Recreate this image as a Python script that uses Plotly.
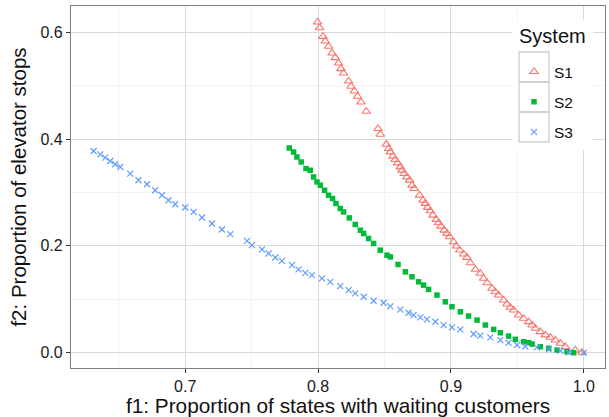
import plotly.graph_objects as go

# ---- data ----
s1_f1 = [0.7996, 0.8011, 0.8037, 0.8054, 0.8079, 0.8105, 0.8130, 0.8154, 0.8172, 0.8192,
         0.8230, 0.8248, 0.8273, 0.8297, 0.8323, 0.8363, 0.8451, 0.8468, 0.8514, 0.8531,
         0.8544, 0.8564, 0.8581, 0.8599, 0.8619, 0.8632, 0.8649, 0.8669, 0.8689, 0.8707,
         0.8724, 0.8764, 0.8790, 0.8807, 0.8825, 0.8845, 0.8865, 0.8890, 0.8907, 0.8925,
         0.8950, 0.8971, 0.8990, 0.9020, 0.9041, 0.9066, 0.9096, 0.9121, 0.9146, 0.9184,
         0.9221, 0.9246, 0.9272, 0.9309, 0.9334, 0.9359, 0.9397, 0.9422, 0.9447, 0.9472,
         0.9510, 0.9547, 0.9585, 0.9611, 0.9636, 0.9673, 0.9711, 0.9748, 0.9786, 0.9824,
         0.9861, 0.9937, 0.9987]
s1_f2 = [0.6187, 0.6082, 0.5920, 0.5832, 0.5733, 0.5607, 0.5521, 0.5420, 0.5316, 0.5234,
         0.5084, 0.4985, 0.4897, 0.4798, 0.4692, 0.4518, 0.4194, 0.4088, 0.3901, 0.3821,
         0.3757, 0.3677, 0.3615, 0.3551, 0.3477, 0.3415, 0.3353, 0.3290, 0.3228, 0.3135,
         0.3073, 0.2948, 0.2854, 0.2793, 0.2718, 0.2654, 0.2574, 0.2493, 0.2430, 0.2368,
         0.2293, 0.2232, 0.2168, 0.2075, 0.1994, 0.1920, 0.1845, 0.1783, 0.1682, 0.1559,
         0.1484, 0.1391, 0.1308, 0.1204, 0.1140, 0.1079, 0.0985, 0.0910, 0.0849, 0.0798,
         0.0705, 0.0643, 0.0579, 0.0518, 0.0456, 0.0393, 0.0331, 0.0288, 0.0237, 0.0176,
         0.0112, 0.0050, 0.0007]

s2_f1 = [0.7783, 0.7816, 0.7841, 0.7873, 0.7909, 0.7941, 0.7966, 0.7992, 0.8017, 0.8049,
         0.8079, 0.8109, 0.8135, 0.8167, 0.8192, 0.8235, 0.8280, 0.8318, 0.8343, 0.8380,
         0.8418, 0.8468, 0.8519, 0.8544, 0.8602, 0.8657, 0.8707, 0.8757, 0.8794, 0.8832,
         0.8895, 0.8958, 0.9008, 0.9071, 0.9133, 0.9197, 0.9259, 0.9322, 0.9372, 0.9434,
         0.9485, 0.9547, 0.9585, 0.9611, 0.9673, 0.9736, 0.9799, 0.9874, 0.9924]
s2_f2 = [0.3832, 0.3757, 0.3664, 0.3570, 0.3447, 0.3415, 0.3290, 0.3196, 0.3135, 0.3041,
         0.2948, 0.2886, 0.2793, 0.2699, 0.2636, 0.2523, 0.2400, 0.2293, 0.2232, 0.2138,
         0.2045, 0.1920, 0.1826, 0.1794, 0.1652, 0.1514, 0.1421, 0.1327, 0.1265, 0.1185,
         0.1079, 0.0953, 0.0860, 0.0766, 0.0686, 0.0611, 0.0518, 0.0437, 0.0374, 0.0312,
         0.0250, 0.0206, 0.0187, 0.0163, 0.0112, 0.0082, 0.0050, 0.0019, 0.0000]

s3_f1 = [0.6310, 0.6360, 0.6398, 0.6435, 0.6473, 0.6511, 0.6586, 0.6648, 0.6712, 0.6774,
         0.6825, 0.6874, 0.6925, 0.7000, 0.7063, 0.7126, 0.7201, 0.7276, 0.7339, 0.7465,
         0.7502, 0.7578, 0.7627, 0.7678, 0.7728, 0.7803, 0.7853, 0.7904, 0.7954, 0.8029,
         0.8092, 0.8167, 0.8230, 0.8280, 0.8343, 0.8418, 0.8493, 0.8544, 0.8619, 0.8681,
         0.8719, 0.8770, 0.8820, 0.8883, 0.8945, 0.9008, 0.9071, 0.9171, 0.9221, 0.9297,
         0.9372, 0.9434, 0.9498, 0.9560, 0.9648, 0.9736, 0.9824, 0.9887, 0.9999]
s3_f2 = [0.3776, 0.3714, 0.3652, 0.3589, 0.3527, 0.3477, 0.3353, 0.3228, 0.3153, 0.3041,
         0.2948, 0.2854, 0.2779, 0.2718, 0.2636, 0.2531, 0.2419, 0.2307, 0.2219, 0.2093,
         0.2013, 0.1933, 0.1858, 0.1783, 0.1720, 0.1639, 0.1559, 0.1495, 0.1452, 0.1391,
         0.1327, 0.1247, 0.1172, 0.1110, 0.1047, 0.0972, 0.0935, 0.0867, 0.0806, 0.0748,
         0.0705, 0.0662, 0.0624, 0.0579, 0.0518, 0.0475, 0.0437, 0.0350, 0.0321, 0.0288,
         0.0237, 0.0187, 0.0144, 0.0116, 0.0101, 0.0064, 0.0037, 0.0007, 0.0000]

systems = ["S1", "S2", "S3"]
legend_title = "System"
x_ticks = [0.7, 0.8, 0.9, 1.0]
x_tick_labels = ["0.7", "0.8", "0.9", "1.0"]
y_ticks = [0.0, 0.2, 0.4, 0.6]
y_tick_labels = ["0.0", "0.2", "0.4", "0.6"]

FONT = "Liberation Sans, Arial, sans-serif"

fig = go.Figure()
fig.add_trace(go.Scatter(
    x=s1_f1, y=s1_f2, mode="markers", name=systems[0], legendgroup="g1",
    marker=dict(symbol="triangle-up-open", size=7.5, color="#F8766D",
                line=dict(width=1.1, color="#F8766D"))))
fig.add_trace(go.Scatter(
    x=s2_f1, y=s2_f2, mode="markers", name=systems[1], legendgroup="g2",
    marker=dict(symbol="square", size=5.5, color="#00BA38",
                line=dict(width=0))))
fig.add_trace(go.Scatter(
    x=s3_f1, y=s3_f2, mode="markers", name=systems[2], legendgroup="g3",
    marker=dict(symbol="x-thin-open", size=6, color="#619CFF",
                line=dict(width=1.2, color="#619CFF"))))

axis_common = dict(
    showline=True, linecolor="#7f7f7f", linewidth=1.2, mirror=True,
    showgrid=True, gridcolor="#d9d9d9", gridwidth=1.3,
    zeroline=False, ticks="outside", ticklen=4, tickcolor="#333333", tickwidth=1,
    tickfont=dict(family=FONT, size=16, color="#1a1a1a"),
    automargin=False,
)

fig.update_xaxes(
    range=[0.614, 1.016], tickvals=x_ticks, ticktext=x_tick_labels,
    minor=dict(dtick=0.05, tick0=0.65, showgrid=True, gridcolor="#f2f2f2", ticklen=0),
    title=dict(text="f1: Proportion of states with waiting customers",
               font=dict(family=FONT, size=20.8, color="#111111"), standoff=4),
    **axis_common)
fig.update_yaxes(
    range=[-0.0286, 0.649], tickvals=y_ticks, ticktext=y_tick_labels,
    minor=dict(dtick=0.1, tick0=0.1, showgrid=True, gridcolor="#f2f2f2", ticklen=0),
    title=dict(text="f2: Proportion of elevator stops",
               font=dict(family=FONT, size=20.5, color="#111111"), standoff=8),
    **axis_common)

# legend background and grey frames of the legend keys (ggplot style)
fig.add_shape(type="rect", xref="paper", yref="paper",
              x0=0.8258, x1=0.9775, y0=0.602, y1=0.961,
              line=dict(width=0), fillcolor="white", layer="above")
key_y = [(0.8729, 0.7901), (0.7901, 0.7072), (0.7072, 0.6243)]
for top, bot in key_y:
    fig.add_shape(type="rect", xref="paper", yref="paper",
                  x0=0.8390, x1=0.8951, y0=bot, y1=top,
                  line=dict(color="#cfcfcf", width=1.3), fillcolor="rgba(0,0,0,0)",
                  layer="above")
fig.add_annotation(text=legend_title, xref="paper", yref="paper",
                   x=0.8352, y=0.9165, xanchor="left", yanchor="middle",
                   showarrow=False, font=dict(family=FONT, size=20, color="#111111"))

fig.update_layout(
    width=609, height=417,
    margin=dict(l=71, r=4, t=6, b=49),
    paper_bgcolor="white", plot_bgcolor="white",
    font=dict(family=FONT, color="#111111"),
    legend=dict(
        x=0.8296, y=0.8646, xanchor="left", yanchor="top",
        bgcolor="rgba(0,0,0,0)", borderwidth=0,
        font=dict(family=FONT, size=15.5),
        tracegroupgap=7,
    ),
)

fig.write_html("out.html", config={"displayModeBar": False},
               post_script="document.body.style.margin='0';document.body.style.overflow='hidden';")
